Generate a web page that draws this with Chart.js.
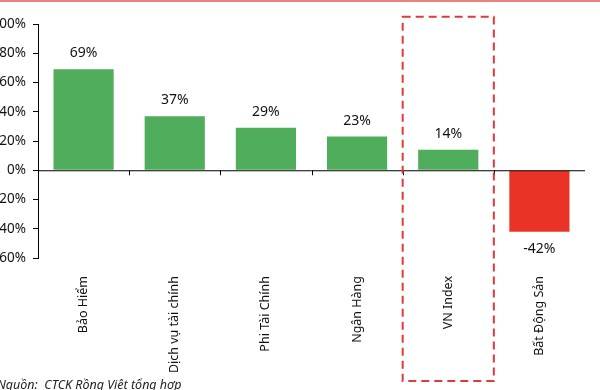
<!DOCTYPE html>
<html>
<head>
<meta charset="utf-8">
<script src="https://cdn.jsdelivr.net/npm/chart.js@4"></script>
<style>
  html, body { margin: 0; padding: 0; background: #fff; overflow: hidden; }
  body { width: 600px; height: 390px; position: relative; }
  #topline { position: absolute; left: 0; top: 0; width: 600px; height: 2px; background: #e8847e; }
  #wrap { position: absolute; left: -14px; top: 0; width: 614px; height: 390px; }
  #source { position: absolute; left: -3px; top: 376px; font: italic 12.5px "Noto Sans", sans-serif; color: #222; white-space: pre; }
</style>
</head>
<body>
<div id="wrap"><canvas id="chart" width="614" height="390"></canvas></div>
<div id="topline"></div>
<div id="source">Nguồn:  CTCK Rồng Việt tổng hợp</div>
<script>
const categories = ['Bảo Hiểm', 'Dịch vụ tài chính', 'Phi Tài Chính', 'Ngân Hàng', 'VN Index', 'Bất Động Sản'];
const values = [69, 37, 29, 23, 14, -42];
const highlightIndex = 4;
const yMin = -60, yMax = 100, yStep = 20;

const FONT = '"Noto Sans", sans-serif';

// zero line with category tick marks, value labels and the dashed highlight box
const overlay = {
  id: 'overlay',
  afterDatasetsDraw(chart) {
    const ctx = chart.ctx;
    const x = chart.scales.x, y = chart.scales.y;
    const area = chart.chartArea;
    const y0 = y.getPixelForValue(0);
    const step = x.getPixelForValue(1) - x.getPixelForValue(0);

    ctx.save();
    ctx.strokeStyle = '#000';
    ctx.lineWidth = 1;
    ctx.beginPath();
    ctx.moveTo(area.left, y0 + 0.5);
    ctx.lineTo(area.right, y0 + 0.5);
    for (let i = 1; i < categories.length; i++) {
      const px = Math.round(x.getPixelForValue(i) - step / 2) + 0.5;
      ctx.moveTo(px, y0);
      ctx.lineTo(px, y0 + 5);
    }
    ctx.stroke();

    ctx.fillStyle = '#111';
    ctx.font = '14px ' + FONT;
    ctx.textAlign = 'center';
    ctx.textBaseline = 'middle';
    chart.getDatasetMeta(0).data.forEach((bar, i) => {
      const v = values[i];
      const ty = v >= 0 ? bar.y - 16 : bar.y + 17;
      ctx.fillText(v + '%', bar.x, ty);
    });

    const cx = x.getPixelForValue(highlightIndex);
    const left = cx - step / 2, right = cx + step / 2;
    const top = y.getPixelForValue(105);
    const bottom = chart.height - 9;
    ctx.strokeStyle = '#e0393a';
    ctx.lineWidth = 2;
    ctx.setLineDash([8, 5]);
    ctx.strokeRect(left, top, right - left, bottom - top);
    ctx.restore();
  }
};

new Chart(document.getElementById('chart'), {
  type: 'bar',
  data: {
    labels: categories,
    datasets: [{
      data: values,
      backgroundColor: values.map(v => v >= 0 ? '#4fad5b' : '#e83326'),
      barPercentage: 0.66,
      categoryPercentage: 1
    }]
  },
  options: {
    responsive: false,
    animation: false,
    layout: { padding: { top: 24, right: 15, bottom: 0, left: 0 } },
    plugins: { legend: { display: false }, tooltip: { enabled: false } },
    scales: {
      x: {
        grid: { display: false },
        border: { display: false },
        afterFit(scale) { scale.height = 132; },
        ticks: {
          autoSkip: false,
          maxRotation: 90,
          minRotation: 90,
          padding: 10,
          color: '#111',
          font: { family: FONT, size: 12.5 }
        }
      },
      y: {
        min: yMin,
        max: yMax,
        afterFit(scale) { scale.width = 52; },
        grid: { drawOnChartArea: false, tickLength: 5, color: '#000' },
        border: { display: true, color: '#000' },
        ticks: {
          stepSize: yStep,
          padding: 7,
          color: '#111',
          font: { family: FONT, size: 13.5 },
          callback: v => v + '%'
        }
      }
    }
  },
  plugins: [overlay]
});
</script>
</body>
</html>
